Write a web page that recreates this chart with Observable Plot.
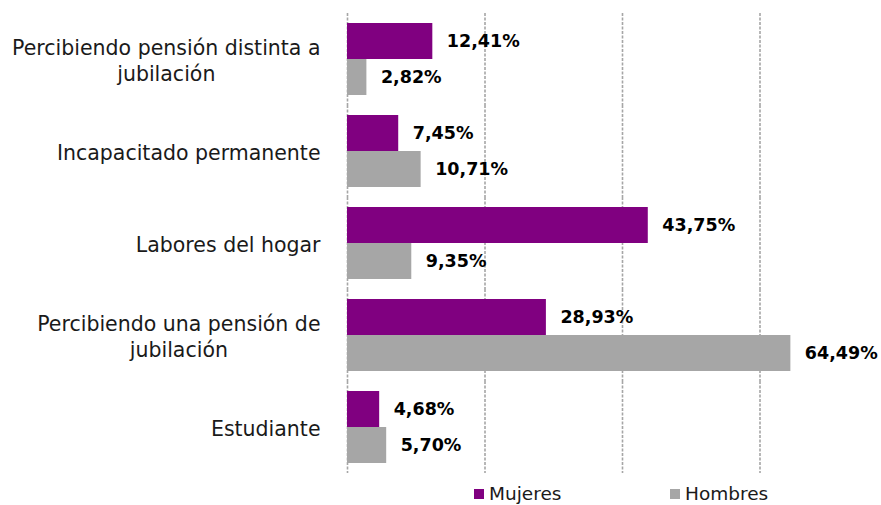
<!DOCTYPE html>
<html><head><meta charset="utf-8">
<script src="https://cdn.jsdelivr.net/npm/d3@7"></script>
<script src="https://cdn.jsdelivr.net/npm/@observablehq/plot@0.6"></script>
<style>
body{margin:0;background:#fff;font-family:"DejaVu Sans",Verdana,sans-serif;}
#legend{position:relative;width:881px;height:25px;font-size:18.5px;color:#1a1a1a}
#legend .item{position:absolute;top:4px;display:flex;align-items:center;line-height:20px}
#legend .sw{display:inline-block;width:10px;height:10px;margin-right:5px}
</style></head><body>
<div id="chart"></div><div id="legend"></div>
<script>
const categories = ["Percibiendo pensión distinta a jubilación", "Incapacitado permanente", "Labores del hogar", "Percibiendo una pensión de jubilación", "Estudiante"];
const labelLines = [["Percibiendo pensión distinta a", "jubilación"], ["Incapacitado permanente"], ["Labores del hogar"], ["Percibiendo una pensión de", "jubilación"], ["Estudiante"]];
const series = ["Mujeres", "Hombres"];
const mujeres = [12.41, 7.45, 43.75, 28.93, 4.68];
const hombres = [2.82, 10.71, 9.35, 64.49, 5.70];
const colors = ["#800080", "#a6a6a6"];
const gridTicks = [0, 20, 40, 60];

const rows = [];
categories.forEach((c, i) => {
  rows.push({cat: c, sex: "Mujeres", value: mujeres[i]});
  rows.push({cat: c, sex: "Hombres", value: hombres[i]});
});
const fmt = v => v.toFixed(2).replace(".", ",") + "%";

const labelSize = 20.5;
const ctx = document.createElement("canvas").getContext("2d");
ctx.font = labelSize + "px 'DejaVu Sans'";
const labelMarks = categories.map((c, i) => {
  const w = Math.max(...labelLines[i].map(l => ctx.measureText(l).width));
  return Plot.text([c], {
    fy: d => d, text: () => labelLines[i].join("\n"),
    frameAnchor: "left", textAnchor: "middle", dx: -27 - w / 2,
    lineHeight: 1.27, fontSize: labelSize, fill: "#1a1a1a"
  });
});

const chart = Plot.plot({
  width: 881, height: 480,
  marginLeft: 347, marginRight: 39, marginTop: 13, marginBottom: 7,
  x: {domain: [0, 72], axis: null},
  y: {domain: series, paddingInner: 0, paddingOuter: 0.25, axis: null},
  fy: {domain: categories, padding: 0, axis: null},
  color: {domain: series, range: colors},
  style: {fontFamily: "'DejaVu Sans', Verdana, sans-serif", background: "#fff"},
  marks: [
    Plot.ruleX(gridTicks, {x: d => d, stroke: "#a6a6a6", strokeWidth: 1.6, strokeDasharray: "3,1.5"}),
    Plot.barX(rows, {fy: "cat", y: "sex", x: "value", fill: "sex"}),
    Plot.text(rows, {fy: "cat", y: "sex", x: "value", text: d => fmt(d.value), dx: 14, textAnchor: "start", fontWeight: "bold", fontSize: 17.5, fill: "#000"}),
    ...labelMarks
  ]
});
document.getElementById("chart").appendChild(chart);

const legend = document.getElementById("legend");
const legendLeft = [474, 670];
series.forEach((s, i) => {
  const item = document.createElement("div");
  item.className = "item";
  item.style.left = legendLeft[i] + "px";
  item.innerHTML = `<span class="sw" style="background:${colors[i]}"></span><span>${s}</span>`;
  legend.appendChild(item);
});
</script>
</body></html>
